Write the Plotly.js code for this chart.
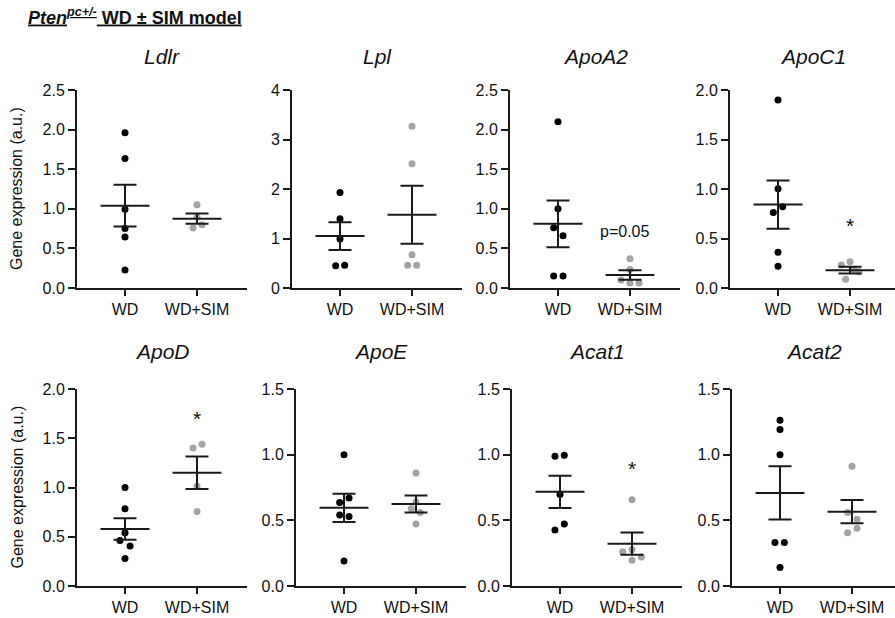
<!DOCTYPE html>
<html>
<head>
<meta charset="utf-8">
<script src="https://cdn.plot.ly/plotly-3.0.1.min.js"></script>
<style>html,body{margin:0;padding:0;background:#fff;}#chart{width:895px;height:618px;}</style>
</head>
<body>
<div id="chart"></div>
<script>
// ---------- data ----------
const genes = ['Ldlr', 'Lpl', 'ApoA2', 'ApoC1', 'ApoD', 'ApoE', 'Acat1', 'Acat2'];
const groups = ['WD', 'WD+SIM'];

const ldlrWD  = [1.96, 1.635, 0.995, 0.75, 0.644, 0.226];
const ldlrSIM = [1.05, 0.90, 0.80, 0.757];
const lplWD   = [1.93, 1.40, 0.99, 0.46, 0.45];
const lplSIM  = [3.27, 2.51, 0.67, 0.46, 0.46];
const apoa2WD  = [2.10, 1.00, 0.762, 0.66, 0.153, 0.153];
const apoa2SIM = [0.37, 0.234, 0.102, 0.064, 0.064];
const apoc1WD  = [1.90, 1.003, 0.82, 0.762, 0.36, 0.22];
const apoc1SIM = [0.265, 0.232, 0.19, 0.163, 0.089];
const apodWD   = [1.00, 0.784, 0.54, 0.463, 0.405, 0.28];
const apodSIM  = [1.40, 1.438, 1.012, 0.756];
const apoeWD   = [1.00, 0.67, 0.636, 0.54, 0.53, 0.19];
const apoeSIM  = [0.861, 0.639, 0.588, 0.56, 0.473];
const acat1WD  = [0.996, 0.988, 0.697, 0.472, 0.426];
const acat1SIM = [0.657, 0.276, 0.26, 0.22, 0.196];
const acat2WD  = [1.263, 1.191, 1.00, 0.332, 0.332, 0.14];
const acat2SIM = [0.911, 0.559, 0.508, 0.439, 0.406];

// horizontal scatter (jitter) of the dots, in category units
const ldlrWDj  = [0, 0, 0, 0, 0, 0];
const ldlrSIMj = [0, 0, 0.07, -0.055];
const lplWDj   = [0, 0, 0, 0.065, -0.06];
const lplSIMj  = [0, 0, 0, -0.06, 0.065];
const apoa2WDj  = [0, 0, -0.06, 0.07, -0.06, 0.07];
const apoa2SIMj = [0, 0, -0.125, 0, 0.125];
const apoc1WDj  = [0, 0, 0.065, -0.065, 0, 0];
const apoc1SIMj = [0, -0.12, 0.055, 0.125, -0.06];
const apodWDj   = [0, 0, 0, -0.07, 0.07, 0];
const apodSIMj  = [-0.055, 0.07, 0, 0];
const apoeWDj   = [0, 0.07, -0.06, -0.06, 0.07, 0];
const apoeSIMj  = [0, 0, -0.065, 0.06, 0];
const acat1WDj  = [0.06, -0.07, 0, 0.06, -0.07];
const acat1SIMj = [0, 0, -0.13, 0.13, 0];
const acat2WDj  = [0, 0, 0, -0.07, 0.06, 0];
const acat2SIMj = [0, -0.06, 0.07, 0.07, -0.06];

// mean ± SEM
const meanWD  = [1.04, 1.05, 0.81, 0.843, 0.579, 0.595, 0.717, 0.709];
const semWD   = [0.265, 0.28, 0.295, 0.244, 0.109, 0.107, 0.123, 0.203];
const meanSIM = [0.875, 1.48, 0.165, 0.18, 1.15, 0.625, 0.322, 0.566];
const semSIM  = [0.065, 0.585, 0.06, 0.034, 0.165, 0.065, 0.085, 0.088];

// axis ranges / ticks
const yMax   = [2.5, 4, 2.5, 2.0, 2.0, 1.5, 1.5, 1.5];
const yStep  = [0.5, 1, 0.5, 0.5, 0.5, 0.5, 0.5, 0.5];
const yFmt   = ['.1f', 'd', '.1f', '.1f', '.1f', '.1f', '.1f', '.1f'];

// significance labels
const sigText = ['', '', 'p=0.05', '*', '*', '', '*', ''];
const sigY    = [null, null, 0.71, 0.64, 1.71, null, 0.90, null];

const mainTitle = '<b><u><i>Pten</i><sup><i>pc+/-</i></sup> WD ± SIM model</u></b>';
const yTitle = 'Gene expression (a.u.)';

// ---------- layout ----------
const W = 895, H = 618;
const FONT = 'Liberation Sans, Arial, Helvetica, sans-serif';
const AX = '#1a1a1a';
const GRAY = '#a3a3a3';
const pxPerUnit = 72, leftPad = 48;
const xStarts = [77, 292, 510, 730, 77, 296, 512, 732];
const axLen = 170;
const rowTop = [90, 389], rowBot = [288, 586];
const titleY = [56, 351];

const wdVals = [ldlrWD, lplWD, apoa2WD, apoc1WD, apodWD, apoeWD, acat1WD, acat2WD];
const simVals = [ldlrSIM, lplSIM, apoa2SIM, apoc1SIM, apodSIM, apoeSIM, acat1SIM, acat2SIM];
const wdJit = [ldlrWDj, lplWDj, apoa2WDj, apoc1WDj, apodWDj, apoeWDj, acat1WDj, acat2WDj];
const simJit = [ldlrSIMj, lplSIMj, apoa2SIMj, apoc1SIMj, apodSIMj, apoeSIMj, acat1SIMj, acat2SIMj];

const traces = [];
const layout = {
  width: W, height: H,
  margin: {l: 0, r: 0, t: 0, b: 0},
  paper_bgcolor: '#fff', plot_bgcolor: 'rgba(0,0,0,0)',
  showlegend: false,
  font: {family: FONT, color: '#111', size: 16},
  annotations: []
};

for (let i = 0; i < genes.length; i++) {
  const n = i + 1;
  const xa = n === 1 ? 'x' : 'x' + n;
  const ya = n === 1 ? 'y' : 'y' + n;
  const row = i < 4 ? 0 : 1;
  const x0 = xStarts[i];
  const x1 = Math.min(x0 + axLen, W);
  const L = x1 - x0;

  layout['xaxis' + (n === 1 ? '' : n)] = {
    domain: [x0 / W, x1 / W],
    anchor: ya,
    range: [-leftPad / pxPerUnit, (L - leftPad) / pxPerUnit],
    tickmode: 'array', tickvals: [0, 1], ticktext: groups,
    showline: true, linecolor: AX, linewidth: 2,
    ticks: 'outside', ticklen: 6, tickwidth: 2, tickcolor: AX,
    showgrid: false, zeroline: false,
    tickfont: {family: FONT, size: 16, color: '#111'},
    fixedrange: true
  };
  layout['yaxis' + (n === 1 ? '' : n)] = {
    domain: [(H - rowBot[row]) / H, (H - rowTop[row]) / H],
    anchor: xa,
    range: [0, yMax[i]],
    tick0: 0, dtick: yStep[i], tickformat: yFmt[i],
    showline: true, linecolor: AX, linewidth: 2,
    ticks: 'outside', ticklen: 7, tickwidth: 2, tickcolor: AX,
    showgrid: false, zeroline: false,
    tickfont: {family: FONT, size: 16, color: '#111'},
    fixedrange: true
  };

  // dots
  traces.push({
    type: 'scatter', mode: 'markers', xaxis: xa, yaxis: ya, cliponaxis: false,
    x: wdVals[i].map((v, k) => 0 + wdJit[i][k]), y: wdVals[i],
    marker: {size: 7, color: '#000'}, hoverinfo: 'y'
  });
  traces.push({
    type: 'scatter', mode: 'markers', xaxis: xa, yaxis: ya, cliponaxis: false,
    x: simVals[i].map((v, k) => 1 + simJit[i][k]), y: simVals[i],
    marker: {size: 7, color: GRAY}, hoverinfo: 'y'
  });
  // mean lines
  [[0, meanWD[i]], [1, meanSIM[i]]].forEach(([g, m]) => {
    traces.push({
      type: 'scatter', mode: 'lines', xaxis: xa, yaxis: ya, cliponaxis: false,
      x: [g - 0.34, g + 0.34], y: [m, m],
      line: {color: AX, width: 2}, hoverinfo: 'skip'
    });
  });
  // SEM bars
  traces.push({
    type: 'scatter', mode: 'markers', xaxis: xa, yaxis: ya, cliponaxis: false,
    x: [0, 1], y: [meanWD[i], meanSIM[i]],
    marker: {size: 1, opacity: 0},
    error_y: {type: 'data', array: [semWD[i], semSIM[i]], visible: true,
              width: 11.5, thickness: 2, color: AX},
    hoverinfo: 'skip'
  });

  // gene title
  layout.annotations.push({
    xref: 'paper', yref: 'paper',
    x: (x0 + L / 2) / W, y: (H - titleY[row]) / H,
    xanchor: 'center', yanchor: 'middle',
    text: '<i>' + genes[i] + '</i>', showarrow: false,
    font: {family: FONT, size: 21, color: '#111'}
  });

  // significance
  if (sigText[i]) {
    const star = sigText[i] === '*';
    layout.annotations.push({
      xref: xa, yref: ya, x: 1, y: sigY[i],
      xanchor: 'center', yanchor: 'middle',
      yshift: star ? -1 : 0, xshift: star ? 0 : -6,
      text: sigText[i], showarrow: false,
      font: {family: FONT, size: star ? 21 : 16, color: '#111'}
    });
  }
}

// y titles
[0, 1].forEach(row => {
  layout.annotations.push({
    xref: 'paper', yref: 'paper',
    x: 17 / W, y: (H - (rowTop[row] + rowBot[row]) / 2) / H,
    xanchor: 'center', yanchor: 'middle', textangle: -90,
    text: yTitle, showarrow: false,
    font: {family: FONT, size: 16, color: '#111'}
  });
});

// main title
layout.annotations.push({
  xref: 'paper', yref: 'paper', x: 26 / W, y: (H - 16) / H,
  xanchor: 'left', yanchor: 'middle',
  text: mainTitle, showarrow: false,
  font: {family: FONT, size: 18, color: '#111'}
});

Plotly.newPlot('chart', traces, layout, {displayModeBar: false, staticPlot: true});
</script>
</body>
</html>
